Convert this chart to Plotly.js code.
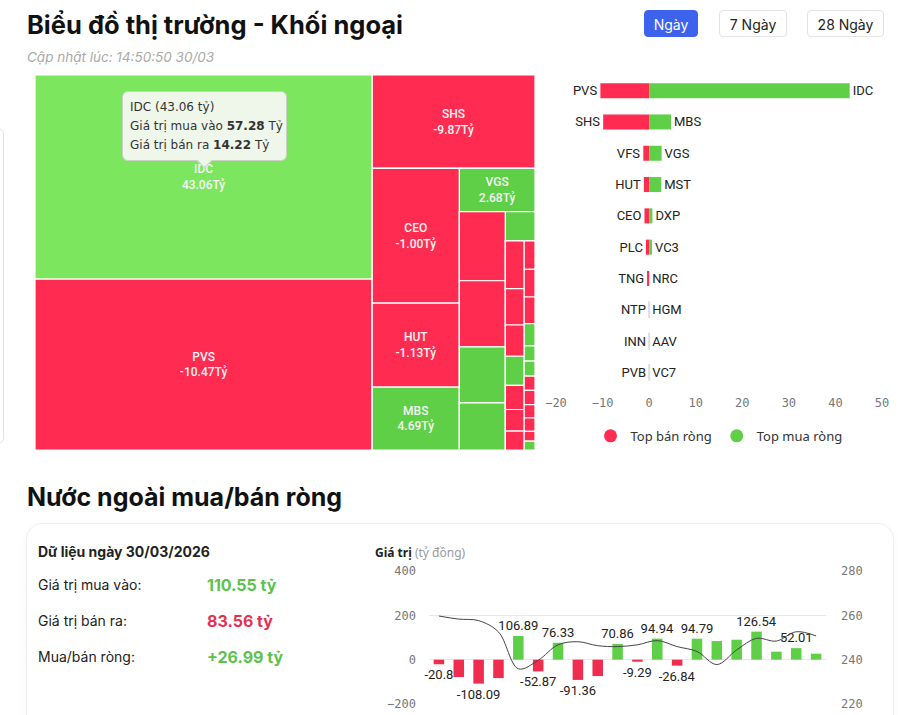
<!DOCTYPE html>
<html><head><meta charset="utf-8">
<script src="https://cdn.plot.ly/plotly-3.0.1.min.js"></script>
<style>
html,body{margin:0;padding:0;width:898px;height:715px;overflow:hidden;background:#fff;font-family:Inter,"Noto Sans",sans-serif;}
.abs{position:absolute;}
#title{left:27px;top:9px;font-size:25.5px;font-weight:700;color:#111;line-height:32px;white-space:nowrap;}
#sub{left:27px;top:48px;font-size:13.5px;font-style:italic;color:#a9a9a9;line-height:18px;}
.btn{top:10px;height:27px;line-height:27px;text-align:center;font-size:14px;border-radius:4px;box-sizing:border-box;color:#222;background:#fff;border:1px solid #e3e3e3;}
#b1{left:644px;width:54px;background:#3d63ee;color:#fff;border-color:#3d63ee;}
#b2{left:719px;width:68px;}
#b3{left:807px;width:77px;}
#edge{left:-10px;top:128px;width:12px;height:314px;border:1px solid #dfe5ec;border-radius:6px;}
#tm{left:35px;top:75px;width:500px;height:375px;}
#tip{left:122px;top:91px;width:165px;height:70px;box-sizing:border-box;background:#eef7ea;border:1px solid #c9d3c4;border-radius:6px;font-family:"DejaVu Sans",sans-serif;font-size:12px;color:#333;padding:6px 0 0 7px;line-height:19px;}
#tip:after{content:"";position:absolute;left:76px;bottom:-6px;width:10px;height:10px;background:#eef7ea;border-right:1px solid #c9d3c4;border-bottom:1px solid #c9d3c4;transform:rotate(45deg);}
#bar{left:540px;top:60px;width:358px;height:430px;}
#h2{left:27px;top:481px;font-size:25px;font-weight:700;color:#111;line-height:32px;white-space:nowrap;}
#card{left:26px;top:523px;width:866px;height:260px;border:1px solid #eef0f3;border-radius:16px;box-shadow:0 2px 8px rgba(0,0,0,0.04);background:#fff;}
.info{left:38px;font-size:14px;color:#222;line-height:18px;}
.val{left:207px;font-size:16px;font-weight:700;line-height:20px;}
#combo{left:360px;top:540px;width:520px;height:200px;}
#ylab{left:375px;top:545px;font-size:12px;line-height:16px;font-family:"Noto Sans",sans-serif;}
</style></head><body>
<div id="edge" class="abs"></div>
<div id="title" class="abs">Biểu đồ thị trường - Khối ngoại</div>
<div id="sub" class="abs">Cập nhật lúc: 14:50:50 30/03</div>
<div id="b1" class="abs btn">Ngày</div>
<div id="b2" class="abs btn">7 Ngày</div>
<div id="b3" class="abs btn">28 Ngày</div>
<div id="tm" class="abs"></div>
<div id="tip" class="abs">IDC (43.06 tỷ)<br>Giá trị mua vào <b>57.28</b> Tỷ<br>Giá trị bán ra <b>14.22</b> Tỷ</div>
<div id="bar" class="abs"></div>
<div id="h2" class="abs">Nước ngoài mua/bán ròng</div>
<div id="card" class="abs"></div>
<div class="abs info" style="top:543px;font-weight:700;">Dữ liệu ngày 30/03/2026</div>
<div class="abs info" style="top:576px;">Giá trị mua vào:</div>
<div class="abs info" style="top:612px;">Giá trị bán ra:</div>
<div class="abs info" style="top:648px;">Mua/bán ròng:</div>
<div class="abs val" id="v1" style="top:575px;color:#5dc24a;"></div>
<div class="abs val" id="v2" style="top:611px;color:#e23152;"></div>
<div class="abs val" id="v3" style="top:647px;color:#5dc24a;"></div>
<div id="ylab" class="abs"><b style="color:#222">Giá trị</b> <span style="color:#9a9a9a">(tỷ đồng)</span></div>
<div id="combo" class="abs"></div>
<script>
// ---------- Treemap data: ticker, group, total traded value (tỷ), net value (tỷ) ----------
const tmNames  = ['IDC','PVS','SHS','CEO','HUT','MBS','VGS','VFS','PLC','MST','DXP','VC3','TNG','NTP','INN','NRC','PVB','PVC','BVS','PVI','LAS','DTD','HGM','AAV','VC7','TIG','NBC','HLD','API','TVD','VCS'];
const tmGroup  = ['Nhóm A','Nhóm A','Nhóm B','Nhóm D','Nhóm D','Nhóm D','Nhóm E','Nhóm G','Nhóm G','Nhóm G','Nhóm G','Nhóm H','Nhóm J','Nhóm J','Nhóm J','Nhóm J','Nhóm J','Nhóm J','Nhóm J','Nhóm K','Nhóm K','Nhóm K','Nhóm K','Nhóm K','Nhóm K','Nhóm K','Nhóm K','Nhóm K','Nhóm K','Nhóm K','Nhóm K'];
const tmTotal  = [71.5,59.9,15.8,12.2,7.6,5.7,3.4,3.3,3.16,2.68,2.25,0.9,0.93,0.71,0.61,0.57,0.47,0.42,0.37,0.32,0.31,0.30,0.25,0.17,0.17,0.16,0.16,0.15,0.15,0.11,0.10];
const tmNet    = [43.06,-10.47,-9.87,-1.00,-1.13,4.69,2.68,-1.25,-0.70,2.60,0.70,0.60,-0.45,-0.05,-0.03,0.05,-0.02,-0.01,-0.01,-0.01,-0.01,-0.01,0.03,0.02,0.01,-0.01,-0.01,-0.01,-0.01,-0.01,0.01];
const grpNames   = ['Khối ngoại','Nhóm A','Nhóm B','Nhóm C','Nhóm D','Nhóm E','Nhóm F','Nhóm G','Nhóm H','Nhóm I','Nhóm J','Nhóm K'];
const grpParents = ['','Khối ngoại','Khối ngoại','Nhóm B','Nhóm C','Nhóm C','Nhóm E','Nhóm F','Nhóm F','Nhóm H','Nhóm I','Nhóm I'];
const tmLabeled = ['IDC','PVS','SHS','CEO','HUT','MBS','VGS'];
const hovered = 'IDC';

// ---------- Top net buy / sell ----------
const sellNames = ['PVS','SHS','VFS','HUT','CEO','PLC','TNG','NTP','INN','PVB'];
const sellValues = [-10.47,-9.87,-1.25,-1.13,-1.00,-0.70,-0.45,-0.03,-0.02,-0.01];
const buyNames = ['IDC','MBS','VGS','MST','DXP','VC3','NRC','HGM','AAV','VC7'];
const buyValues = [43.06,4.69,2.68,2.60,0.70,0.60,0.02,0.01,0.01,0.01];
const barTicks = [-20,-10,0,10,20,30,40,50];

// ---------- Daily summary ----------
const buyTotal = 110.55, sellTotal = 83.56, netTotal = 26.99;

// ---------- Net buy/sell history ----------
const days = ['03/03','04/03','05/03','06/03','09/03','10/03','11/03','12/03','13/03','16/03','17/03','18/03','19/03','20/03','23/03','24/03','25/03','26/03','27/03','30/03'];
const netValues = [-20.8,-78.5,-108.09,-83,106.89,-52.87,76.33,-91.36,-74,70.86,-9.29,94.94,-26.84,94.79,84,90,126.54,36,52.01,26.99];
const showLabel = [1,0,1,0,1,1,1,1,0,1,1,1,1,1,0,0,1,0,1,0];
const indexValues = [259.7,258.3,257.6,252.5,235.9,239.7,246.7,248.1,246.3,245.9,246.7,248.6,245.9,243.7,237.8,244.4,249.6,248.4,252.6,250.7];

const RED = '#ff2b50', GREEN = '#5fcf48', GREEN_HOVER = '#7ce75e';
const tickFont = {family:'DejaVu Sans Mono, monospace', size:12, color:'#777'};

document.getElementById('v1').textContent = buyTotal.toFixed(2) + ' tỷ';
document.getElementById('v2').textContent = sellTotal.toFixed(2) + ' tỷ';
document.getElementById('v3').textContent = (netTotal>=0?'+':'') + netTotal.toFixed(2) + ' tỷ';

// Treemap (leaves first, then grouping nodes)
const allLabels = tmNames.concat(grpNames);
const allParents = tmGroup.concat(grpParents);
const allValues = tmTotal.concat(grpNames.map(()=>0));
const allNet = tmNet.concat(grpNames.map(()=>null));
const allColors = tmNames.map((n,i)=> n===hovered ? GREEN_HOVER : (tmNet[i]>=0 ? GREEN : RED))
                    .concat(grpNames.map(()=> '#ffffff'));
const allTemplates = allLabels.map(n => tmLabeled.includes(n) ? '%{label}<br>%{customdata:.2f}Tỷ' : '');

Plotly.newPlot('tm', [{
  type:'treemap',
  labels: allLabels,
  parents: allParents,
  values: allValues,
  customdata: allNet,
  branchvalues: 'remainder',
  texttemplate: allTemplates,
  textposition: 'middle center',
  textfont: {family:'Roboto, sans-serif', size:12, color:'#f4f4f4', weight:500},
  marker: {
    colors: allColors,
    line: {color:'#ffffff', width:1.2},
    pad: {t:0,l:0,r:0,b:0}
  },
  tiling: {packing:'slice-dice', pad:0},
  pathbar: {visible:false},
  sort: false,
  hoverinfo: 'skip'
}], {
  width:500, height:375, margin:{l:0,r:0,t:0,b:0},
  paper_bgcolor:'rgba(0,0,0,0)'
}, {staticPlot:true, displayModeBar:false});

// Top net buy/sell bars
const rows = sellNames.map((_,i)=> i);
Plotly.newPlot('bar', [
  {type:'bar', orientation:'h', y: rows, x: sellValues, text: sellNames,
   textposition:'outside', cliponaxis:false, constraintext:'none',
   textfont:{family:'Roboto, sans-serif', size:13, color:'#222'},
   marker:{color: sellValues.map(v => Math.abs(v) < 0.1 ? '#dfe1e6' : RED),
           line:{color:'#dfe1e6', width: sellValues.map(v => Math.abs(v) < 0.1 ? 2 : 0)}},
   showlegend:false, hoverinfo:'skip'},
  {type:'bar', orientation:'h', y: rows, x: buyValues, text: buyNames,
   textposition:'outside', cliponaxis:false, constraintext:'none',
   textfont:{family:'Roboto, sans-serif', size:13, color:'#222'},
   marker:{color: GREEN},
   showlegend:false, hoverinfo:'skip'},
  {type:'scatter', mode:'markers', x:[null], y:[null], name:'Top bán ròng',
   marker:{color:RED, size:13, symbol:'circle'}},
  {type:'scatter', mode:'markers', x:[null], y:[null], name:'Top mua ròng',
   marker:{color:GREEN, size:13, symbol:'circle'}}
], {
  width:358, height:430,
  margin:{l:16, r:16, t:15, b:102},
  barmode:'overlay', bargap:0.52,
  paper_bgcolor:'rgba(0,0,0,0)', plot_bgcolor:'rgba(0,0,0,0)',
  xaxis:{range:[-20,50], tickvals: barTicks, showgrid:false, zeroline:false, showline:false,
         ticks:'', ticklabelstandoff:6, tickfont: tickFont, fixedrange:true},
  yaxis:{range:[9.5,-0.5], showticklabels:false, showgrid:false, zeroline:false, showline:false, fixedrange:true},
  showlegend:true,
  legend:{orientation:'h', x:0.5, xanchor:'center', y:-0.105, yanchor:'top',
          font:{family:'Noto Sans, sans-serif', size:13, color:'#333'}, itemwidth:30}
}, {staticPlot:true, displayModeBar:false});

// Combo chart
Plotly.newPlot('combo', [
  {type:'bar', x: days, y: netValues,
   text: netValues.map((v,i)=> showLabel[i] ? String(v) : ''),
   textposition:'outside', cliponaxis:false, constraintext:'none',
   textfont:{family:'Roboto, sans-serif', size:13, color:'#222'},
   marker:{color: netValues.map(v => v>=0 ? GREEN : '#ef2d4f')},
   hoverinfo:'skip', showlegend:false},
  {type:'scatter', mode:'lines', x: days, y: indexValues, yaxis:'y2',
   line:{shape:'spline', color:'#444', width:1}, hoverinfo:'skip', showlegend:false}
], {
  width:520, height:200,
  margin:{l:69, r:54, t:31, b:36},
  bargap:0.47,
  paper_bgcolor:'rgba(0,0,0,0)', plot_bgcolor:'rgba(0,0,0,0)',
  xaxis:{type:'category', showticklabels:false, showgrid:false, zeroline:false, showline:false, ticks:'', fixedrange:true},
  yaxis:{range:[-200,400], tickvals:[-200,0,200,400], gridcolor:'#e6e8ec', gridwidth:1, zeroline:false,
         showline:false, ticks:'', ticklabelstandoff:12, tickfont:tickFont, fixedrange:true},
  yaxis2:{overlaying:'y', side:'right', range:[220,280], tickvals:[220,240,260,280], showgrid:false,
          zeroline:false, showline:false, ticks:'', ticklabelstandoff:14, tickfont:tickFont, fixedrange:true}
}, {staticPlot:true, displayModeBar:false});
</script>
</body></html>
